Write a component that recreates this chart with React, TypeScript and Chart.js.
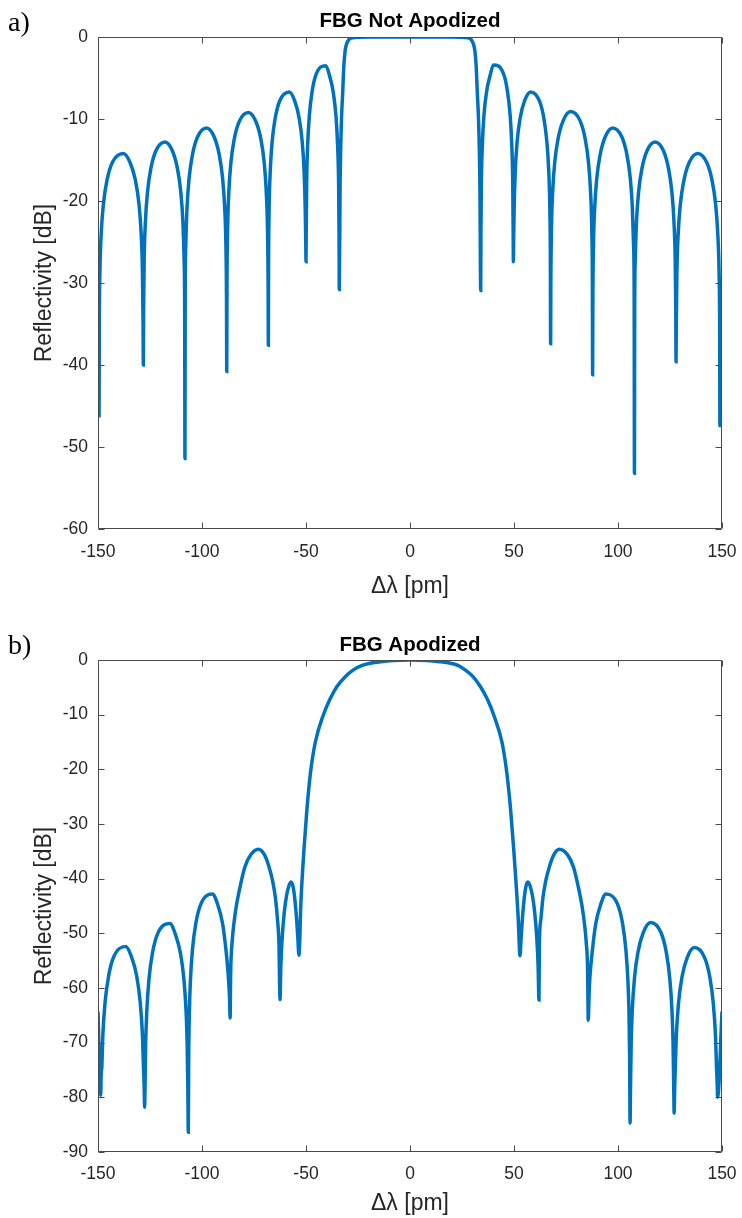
import React, { useEffect, useRef } from "react";
import { Chart, registerables } from "chart.js";

Chart.register(...registerables);

// ---------- data ----------
const xTickValues = [-150, -100, -50, 0, 50, 100, 150];
const yTicksA = [0, -10, -20, -30, -40, -50, -60];
const yTicksB = [0, -10, -20, -30, -40, -50, -60, -70, -80, -90];

// (a) FBG Not Apodized : wavelength offset [pm] and reflectivity [dB]
const wavelengthA = [
  -150, -149.5,
  -149.37, -149.07, -148.44, -147.37, -145.67, -143.11, -137.8, -134.59, -132.03, -130.33, -129.27, -128.63, -128.33,
  -128.2,
  -128.08, -127.8, -127.2, -126.2, -124.6, -122.2, -117.8, -114.2, -111.8, -110.2, -109.2, -108.6, -108.32,
  -108.2,
  -108.08, -107.8, -107.2, -106.19, -104.58, -102.17, -97.8, -94.13, -91.72, -90.11, -89.1, -88.5, -88.22,
  -88.1,
  -87.98, -87.7, -87.1, -86.1, -84.5, -82.1, -77.7, -74.1, -71.7, -70.1, -69.1, -68.5, -68.22,
  -68.1,
  -67.99, -67.74, -67.2, -66.29, -64.84, -62.67, -58.0, -55.43, -53.26, -51.81, -50.91, -50.36, -50.11,
  -50.0,
  -49.9, -49.68, -49.2, -48.4, -47.12, -45.2, -40.5, -38.8, -36.88, -35.6, -34.8, -34.32, -34.1,
  -34.0,
  -33.6, -33.0, -32.4, -31.8, -31.2, -30.4, -29.5, -28.5, -26, -20, 0, 20, 26, 28.5, 29.5, 30.4, 31.2, 31.8, 32.4, 33.0, 33.6,
  34.0,
  34.09, 34.31, 34.79, 35.57, 36.83, 38.71, 40.1, 44.99, 46.87, 48.13, 48.92, 49.39, 49.61,
  49.7,
  49.81, 50.06, 50.6, 51.49, 52.92, 55.07, 58.0, 62.23, 64.38, 65.81, 66.71, 67.24, 67.49,
  67.6,
  67.72, 68.0, 68.61, 69.62, 71.24, 73.66, 77.2, 81.74, 84.16, 85.78, 86.79, 87.4, 87.68,
  87.8,
  87.92, 88.2, 88.81, 89.81, 91.42, 93.83, 97.4, 101.87, 104.28, 105.89, 106.9, 107.5, 107.78,
  107.9,
  108.02, 108.3, 108.9, 109.9, 111.5, 113.9, 117.8, 121.9, 124.3, 125.9, 126.9, 127.5, 127.78,
  127.9,
  128.03, 128.32, 128.96, 130.01, 131.7, 134.23, 138.3, 142.67, 145.2, 146.89, 147.95, 148.58, 148.87,
  149.0, 150,
];
const reflectivityA = [
  -29.8, -46.2,
  -34.9, -28.6, -23.9, -20.3, -17.45, -15.3, -14.2, -15.3, -17.45, -20.3, -23.9, -28.6, -34.9,
  -40.0,
  -33.5, -27.2, -22.5, -18.9, -16.05, -13.9, -12.8, -13.9, -16.05, -18.9, -22.5, -27.2, -33.5,
  -51.4,
  -31.8, -25.5, -20.8, -17.2, -14.35, -12.2, -11.1, -12.2, -14.35, -17.2, -20.8, -25.5, -31.8,
  -40.8,
  -29.9, -23.6, -18.9, -15.3, -12.45, -10.3, -9.2, -10.3, -12.45, -15.3, -18.9, -23.6, -29.9,
  -37.6,
  -27.4, -21.1, -16.4, -12.8, -9.95, -7.8, -6.7, -7.8, -9.95, -12.8, -16.4, -21.1, -25.2,
  -27.4,
  -24.2, -17.9, -13.2, -9.6, -6.75, -4.6, -3.5, -4.6, -6.75, -9.6, -13.2, -17.9, -24.2,
  -30.8,
  -18, -10.5, -7.0, -3.5, -1.7, -0.8, -0.35, -0.15, -0.05, 0, 0, 0, -0.05, -0.15, -0.35, -0.8, -1.7, -3.5, -7.0, -10.5, -18,
  -30.9,
  -24.1, -17.8, -13.1, -9.5, -6.65, -4.5, -3.4, -4.5, -6.65, -9.5, -13.1, -17.8, -24.1,
  -27.4,
  -25.2, -21.1, -16.4, -12.8, -9.95, -7.8, -6.7, -7.8, -9.95, -12.8, -16.4, -21.1, -27.4,
  -37.4,
  -29.8, -23.5, -18.8, -15.2, -12.35, -10.2, -9.1, -10.2, -12.35, -15.2, -18.8, -23.5, -29.8,
  -41.2,
  -31.8, -25.5, -20.8, -17.2, -14.35, -12.2, -11.1, -12.2, -14.35, -17.2, -20.8, -25.5, -31.8,
  -53.2,
  -33.5, -27.2, -22.5, -18.9, -16.05, -13.9, -12.8, -13.9, -16.05, -18.9, -22.5, -27.2, -33.5,
  -39.6,
  -34.9, -28.6, -23.9, -20.3, -17.45, -15.3, -14.2, -15.3, -17.45, -20.3, -23.9, -28.6, -34.9,
  -47.4, -29.8,
];

// (b) FBG Apodized
const wavelengthB = [
  -150, -148.7,
  -148.49, -148.17, -147.65, -146.59, -144.9, -142.37, -136.7, -133.93, -131.4, -129.71, -128.65, -128.13, -127.81,
  -127.6,
  -127.39, -127.08, -126.55, -125.5, -123.82, -121.3, -115.4, -112.9, -110.38, -108.7, -107.65, -107.13, -106.81,
  -106.6,
  -106.4, -106.1, -105.6, -104.59, -102.98, -100.57, -95.0, -92.53, -90.11, -88.49, -87.51, -87.0, -86.7,
  -86.5,
  -86.2, -85.5, -84.6, -83.5, -81.7, -79.5, -76.5, -72.9, -70.0, -67.8, -66.0, -64.7, -63.7, -63.0,
  -62.5,
  -62.1, -61.4, -60.4, -59.3, -58.2, -57.2, -56.2, -55.3, -54.5, -53.9,
  -53.4,
  -52.4, -51.0, -49.6, -47.8, -45.5, -41.7, -38.5, -35.2, -31.0, -27.2, -23.0, -19.2, -14, -8, 0,
  8, 14, 19.5, 23, 26.5, 30.2, 33.9, 37.2, 40.3, 44.2, 46.5, 48.4, 49.9, 51.2, 52.0,
  52.9,
  53.4, 54.0, 54.8, 55.7, 56.6, 57.7, 58.8, 59.9, 60.9, 61.6,
  62.0,
  62.2, 62.9, 63.9, 65.2, 67.0, 69.2, 71.8, 75.7, 78.7, 80.9, 82.7, 83.8, 84.7, 85.4,
  85.7,
  86.0, 86.21, 86.7, 87.71, 89.32, 91.73, 94.2, 99.77, 102.19, 103.79, 104.8, 105.3, 105.6,
  105.8,
  106.01, 106.33, 106.86, 107.92, 109.62, 112.16, 115.7, 120.64, 123.18, 124.88, 125.94, 126.47, 126.79,
  127.0,
  127.21, 127.52, 128.05, 129.09, 130.76, 133.27, 136.7, 141.63, 144.14, 145.81, 146.86, 147.38, 147.69,
  147.9, 150,
];
const reflectivityB = [
  -64.3, -79.6,
  -76.0, -74.5, -68.5, -62.6, -57.8, -54.25, -52.4, -54.25, -57.8, -62.6, -68.5, -74.5, -78.0,
  -81.8,
  -78.3, -70.3, -64.3, -58.4, -53.6, -50.05, -48.2, -50.05, -53.6, -58.4, -64.3, -70.3, -78.3,
  -86.4,
  -72.9, -64.9, -58.9, -53.0, -48.2, -44.65, -42.8, -44.65, -48.2, -53.0, -57.0, -60.0, -62.5,
  -65.5,
  -57, -51.5, -48.0, -45.0, -41.5, -38, -35.6, -34.6, -35.6, -37.8, -40.5, -43.5, -47.5, -52,
  -62.1,
  -56, -50.5, -46, -43, -41.3, -40.6, -41.5, -44, -47.5, -51,
  -54.0,
  -43.9, -34.8, -27.5, -20.5, -15.0, -10.1, -7.2, -4.9, -3.0, -1.8, -1.0, -0.6, -0.3, -0.1, 0,
  -0.1, -0.3, -0.6, -1.0, -1.8, -3.0, -4.9, -7.2, -10.1, -15.0, -20.5, -27.5, -34.8, -42.0, -47.0,
  -54.1,
  -51, -47.5, -44, -41.5, -40.6, -41.3, -43, -46, -50.5, -56,
  -62.2,
  -52, -47.5, -43.5, -40.5, -37.8, -35.6, -34.6, -35.6, -38, -41.5, -45.0, -48.0, -51.5, -57,
  -65.9,
  -62.5, -60.0, -57.0, -53.0, -48.2, -44.65, -42.8, -44.65, -48.2, -53.0, -58.9, -64.9, -72.9,
  -84.7,
  -78.1, -70.1, -64.1, -58.2, -53.4, -49.85, -48.0, -49.85, -53.4, -58.2, -64.1, -70.1, -78.1,
  -82.9,
  -79.0, -74.7, -68.7, -62.8, -58.0, -54.45, -52.6, -54.45, -58.0, -62.8, -68.7, -74.7, -77.5,
  -80.0, -64.3,
];

// ---------- styling ----------
const FONT = "'Liberation Sans', Arial, Helvetica, sans-serif";
const LINE_COLOR = "#0072BD";
const AXIS_COLOR = "#4a4a4a";
const TEXT_COLOR = "#262626";

const boxPlugin = {
  id: "matlabBox",
  afterDraw(chart: any) {
    const { ctx, chartArea: a, scales } = chart;
    const L = Math.round(a.left) + 0.5;
    const R = Math.round(a.right) - 0.5;
    const T = Math.round(a.top) + 0.5;
    const B = Math.round(a.bottom) - 0.5;
    const tl = 6;
    ctx.save();
    ctx.strokeStyle = AXIS_COLOR;
    ctx.lineWidth = 1;
    ctx.beginPath();
    ctx.rect(L, T, R - L, B - T);
    scales.x.ticks.forEach((t: any) => {
      const px = Math.round(scales.x.getPixelForValue(t.value)) + 0.5;
      ctx.moveTo(px, B);
      ctx.lineTo(px, B - tl);
      ctx.moveTo(px, T);
      ctx.lineTo(px, T + tl);
    });
    scales.y.ticks.forEach((t: any) => {
      const py = Math.round(scales.y.getPixelForValue(t.value)) + 0.5;
      ctx.moveTo(L, py);
      ctx.lineTo(L + tl, py);
      ctx.moveTo(R, py);
      ctx.lineTo(R - tl, py);
    });
    ctx.stroke();
    ctx.restore();
  },
};

type Props = {
  xs: number[];
  ys: number[];
  yTicks: number[];
  title: string;
  height: number;
  titlePadTop: number;
  titlePadBottom: number;
  xScaleHeight: number;
  xTitlePadBottom: number;
  xTickPad: number;
};

function FbgChart(p: Props) {
  const ref = useRef<HTMLCanvasElement | null>(null);
  useEffect(() => {
    if (!ref.current) return;
    const n = Math.min(p.xs.length, p.ys.length);
    const points = [];
    for (let i = 0; i < n; i++) points.push({ x: p.xs[i], y: p.ys[i] });
    const yMin = Math.min(...p.yTicks);
    const yMax = Math.max(...p.yTicks);
    const chart = new Chart(ref.current, {
      type: "line",
      data: {
        datasets: [
          {
            data: points,
            borderColor: LINE_COLOR,
            borderWidth: 3.5,
            pointRadius: 0,
            fill: false,
            cubicInterpolationMode: "monotone",
          },
        ],
      },
      options: {
        animation: false,
        responsive: false,
        devicePixelRatio: 1,
        layout: { padding: { left: 0, right: 20, top: 0, bottom: 0 } },
        plugins: {
          legend: { display: false },
          tooltip: { enabled: false },
          title: {
            display: true,
            text: p.title,
            fullSize: false,
            color: "#000",
            font: { family: FONT, size: 20.5, weight: "bold" },
            padding: { top: p.titlePadTop, bottom: p.titlePadBottom },
          },
        },
        scales: {
          x: {
            type: "linear",
            min: -150,
            max: 150,
            afterBuildTicks: (s: any) => {
              s.ticks = xTickValues.map((v) => ({ value: v }));
            },
            afterFit: (s: any) => {
              s.height = p.xScaleHeight;
              s.paddingLeft = 0;
              s.paddingRight = 0;
            },
            grid: { display: false, drawTicks: false },
            border: { display: false },
            ticks: {
              color: TEXT_COLOR,
              font: { family: FONT, size: 17.5 },
              padding: p.xTickPad,
              maxRotation: 0,
              autoSkip: false,
            },
            title: {
              display: true,
              text: "Δλ [pm]",
              color: TEXT_COLOR,
              font: { family: FONT, size: 23 },
              padding: { top: 0, bottom: p.xTitlePadBottom },
            },
          },
          y: {
            type: "linear",
            min: yMin,
            max: yMax,
            afterBuildTicks: (s: any) => {
              s.ticks = p.yTicks.map((v) => ({ value: v }));
            },
            afterFit: (s: any) => {
              s.width = 98;
              s.paddingTop = 0;
              s.paddingBottom = 0;
            },
            grid: { display: false, drawTicks: false },
            border: { display: false },
            ticks: {
              color: TEXT_COLOR,
              font: { family: FONT, size: 17.5 },
              padding: 10,
              autoSkip: false,
            },
            title: {
              display: true,
              text: "Reflectivity [dB]",
              color: TEXT_COLOR,
              font: { family: FONT, size: 23 },
              padding: { top: 31, bottom: 0 },
            },
          },
        },
      },
      plugins: [boxPlugin],
    } as any);
    return () => chart.destroy();
  }, []);
  return <canvas ref={ref} width={742} height={p.height} style={{ display: "block" }} />;
}

const panelLabel: React.CSSProperties = {
  position: "absolute",
  left: 8,
  fontFamily: "'Liberation Serif', 'Times New Roman', serif",
  fontSize: 28,
  lineHeight: "28px",
  color: "#000",
};

export default function App() {
  return (
    <div style={{ position: "absolute", left: 0, top: 0, width: 742, height: 1218, background: "#fff" }}>
      <div style={{ position: "absolute", left: 0, top: 0 }}>
        <FbgChart
          xs={wavelengthA}
          ys={reflectivityA}
          yTicks={yTicksA}
          title="FBG Not Apodized"
          height={600}
          titlePadTop={9.3}
          titlePadBottom={3.1}
          xScaleHeight={71}
          xTitlePadBottom={0}
          xTickPad={12.5}
        />
      </div>
      <div style={{ position: "absolute", left: 0, top: 600 }}>
        <FbgChart
          xs={wavelengthB}
          ys={reflectivityB}
          yTicks={yTicksB}
          title="FBG Apodized"
          height={618}
          titlePadTop={32.7}
          titlePadBottom={2.7}
          xScaleHeight={66}
          xTitlePadBottom={0.3}
          xTickPad={11.8}
        />
      </div>
      <div style={{ ...panelLabel, top: 8 }}>a)</div>
      <div style={{ ...panelLabel, top: 631 }}>b)</div>
    </div>
  );
}
